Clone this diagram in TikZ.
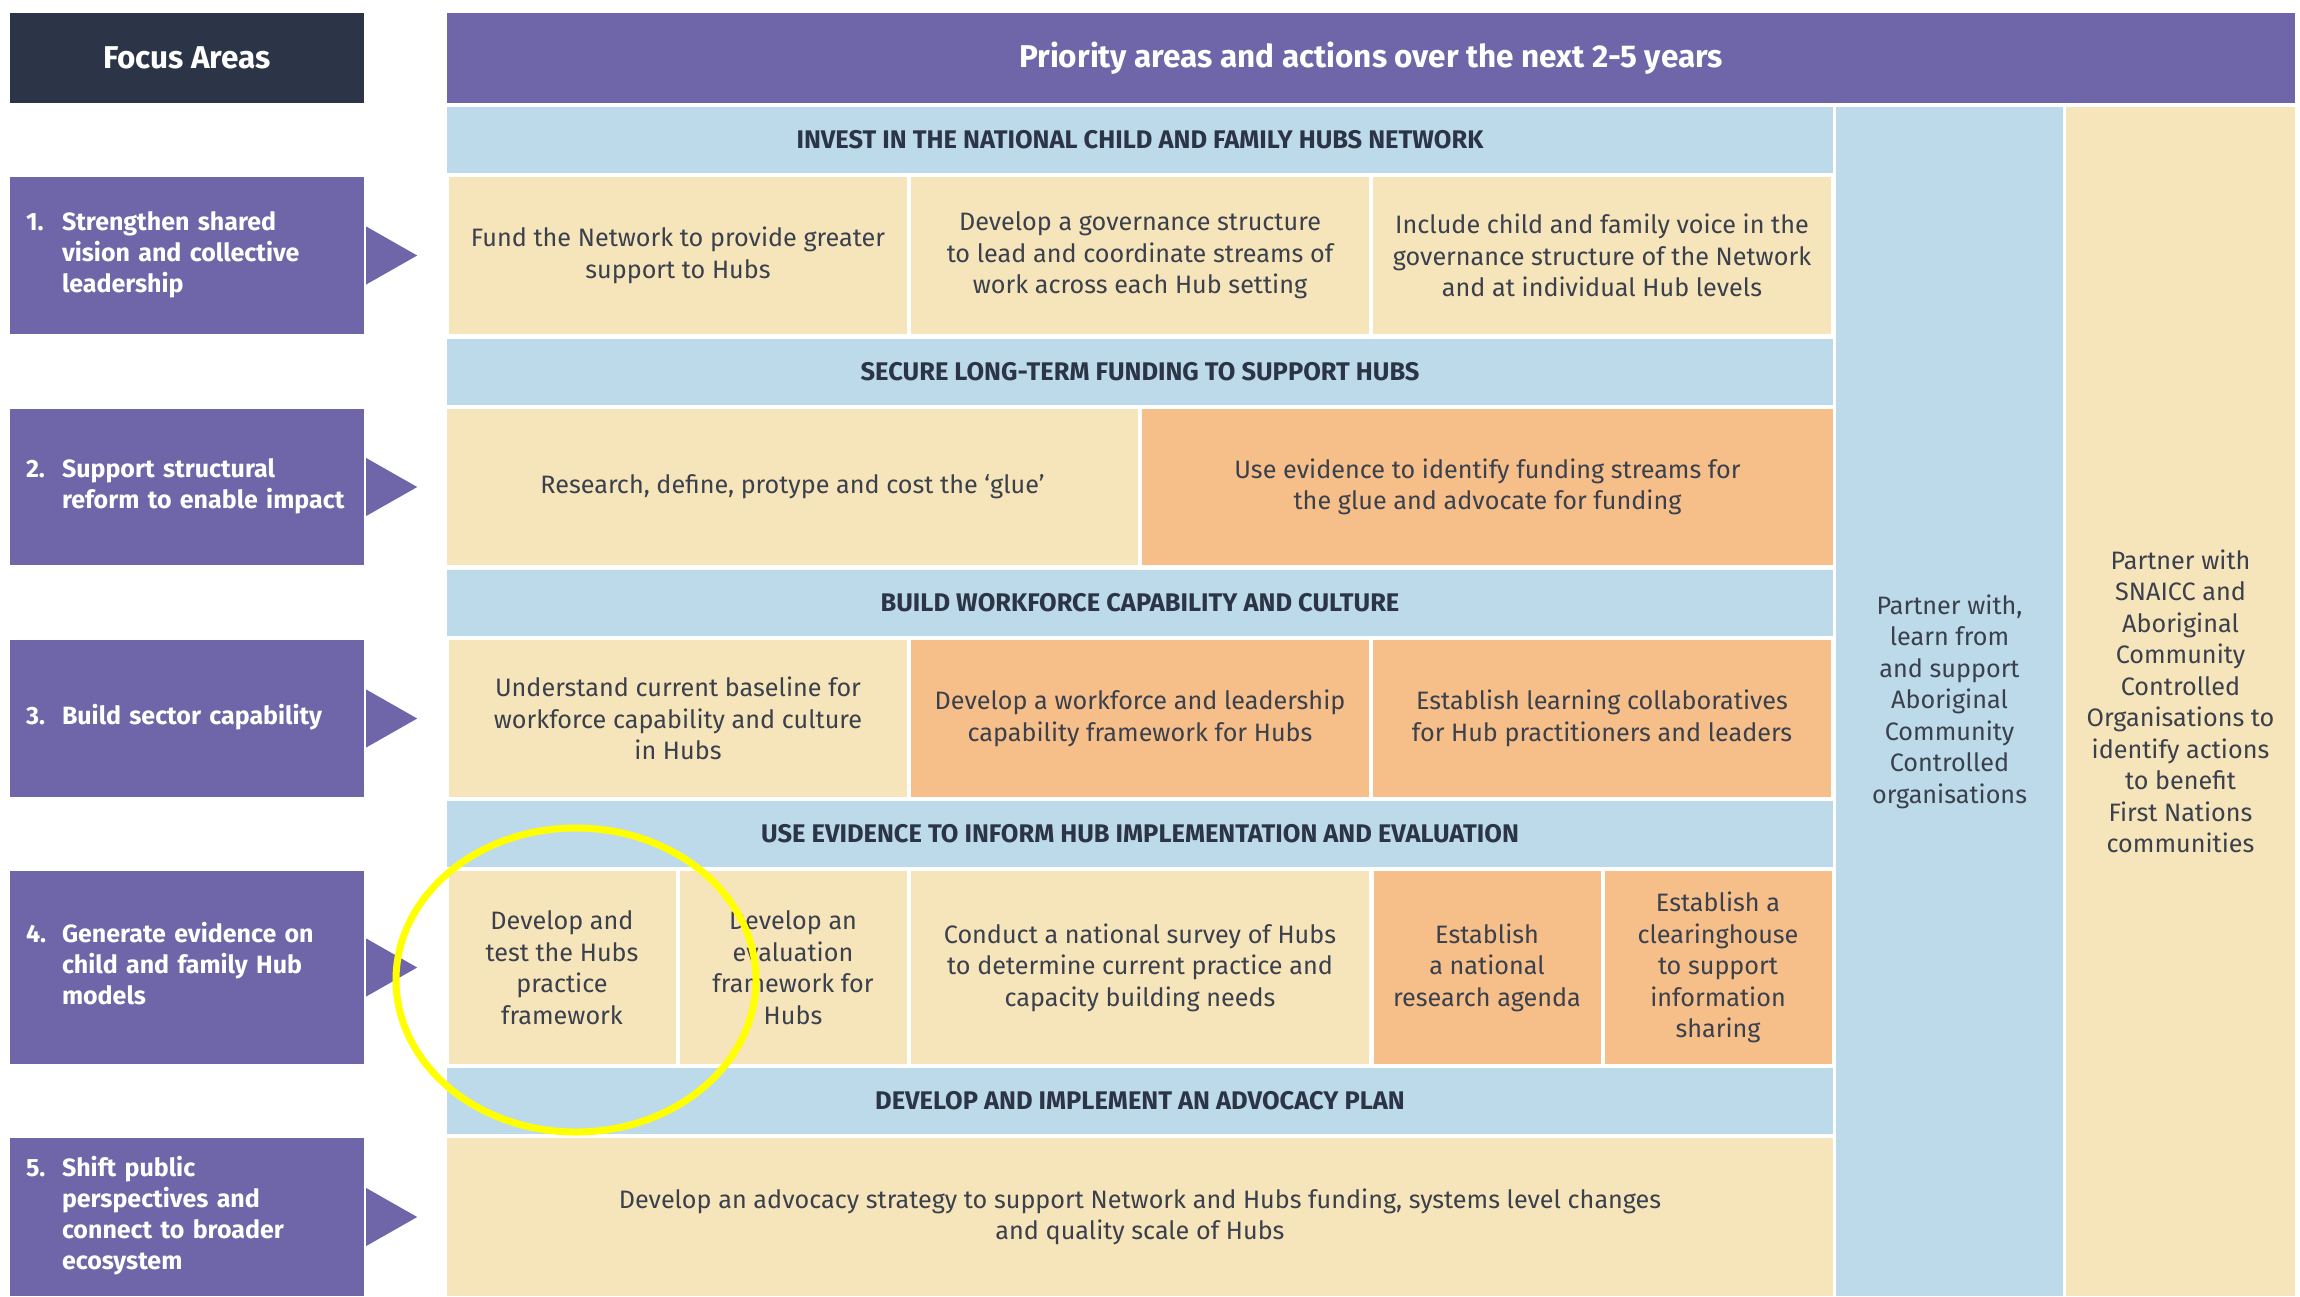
\documentclass[tikz,border=0pt]{standalone}
\usepackage{fontspec}
\setmainfont{Fira Sans}
\usetikzlibrary{positioning}

\definecolor{purp}{HTML}{6E66A8}
\definecolor{navy}{HTML}{2C3547}
\definecolor{sky}{HTML}{BCDAEA}
\definecolor{beige}{HTML}{F6E4BA}
\definecolor{peach}{HTML}{F6BF8A}
\definecolor{ink}{HTML}{3A404C}
\definecolor{ring}{HTML}{FFFF00}

\newcommand{\cellfont}{\fontsize{25.2}{31.5}\selectfont}
\newcommand{\bandfont}{\fontsize{25.5}{30}\selectfont\bfseries}
\newcommand{\focusfont}{\fontsize{25}{31}\selectfont\bfseries}
\newcommand{\headfont}{\fontsize{31.5}{36}\selectfont\bfseries}
\newcommand{\fitem}[2]{\makebox[36pt][l]{#1}\begin{tabular}[t]{@{}l@{}}#2\end{tabular}}

\begin{document}
\begin{tikzpicture}[x=1pt, y=-1pt,
    cell/.style={rectangle, fill=beige, text=ink, inner sep=0pt, align=center, font=\cellfont},
    hot/.style={cell, fill=peach},
    band/.style={rectangle, fill=sky, text=navy, inner sep=0pt, minimum width=1386pt, minimum height=66pt, font=\bandfont},
    focus/.style={rectangle, fill=purp, text=white, minimum width=354pt, text width=322pt, inner xsep=16pt, inner ysep=0pt, align=left, font=\focusfont},
    tip/.style={fill=purp}
]
    \useasboundingbox (0,0) rectangle (2300,1296);

    % Headers
    \node[rectangle, fill=navy, text=white, minimum width=354pt, minimum height=90pt, font=\headfont] (fhead) at (187,58) {Focus Areas};
    \node[rectangle, fill=purp, text=white, minimum width=1848pt, minimum height=90pt, font=\headfont] (phead) at (1371,58) {Priority areas and actions over the next 2-5 years};

    % Focus areas
    \node[focus, minimum height=157pt] (f1) at (187,255.5) {\fitem{1.}{Strengthen shared\\vision and collective\\leadership}};
    \node[focus, minimum height=156pt] (f2) at (187,487) {\fitem{2.}{Support structural\\reform to enable impact}};
    \node[focus, minimum height=157pt] (f3) at (187,718.5) {\fitem{3.}{Build sector capability}};
    \node[focus, minimum height=193pt] (f4) at (187,967.5) {\fitem{4.}{Generate evidence on\\child and family Hub\\models}};
    \node[focus, minimum height=158pt] (f5) at (187,1217) {\fitem{5.}{Shift public\\perspectives and\\connect to broader\\ecosystem}};

    % Pointers
    \fill[tip] ([shift={(2pt,29pt)}]f1.east) -- ([xshift=53pt]f1.east) -- ([shift={(2pt,-29pt)}]f1.east) -- cycle;
    \fill[tip] ([shift={(2pt,29pt)}]f2.east) -- ([xshift=53pt]f2.east) -- ([shift={(2pt,-29pt)}]f2.east) -- cycle;
    \fill[tip] ([shift={(2pt,29pt)}]f3.east) -- ([xshift=53pt]f3.east) -- ([shift={(2pt,-29pt)}]f3.east) -- cycle;
    \fill[tip] ([shift={(2pt,29pt)}]f4.east) -- ([xshift=53pt]f4.east) -- ([shift={(2pt,-29pt)}]f4.east) -- cycle;
    \fill[tip] ([shift={(2pt,29pt)}]f5.east) -- ([xshift=53pt]f5.east) -- ([shift={(2pt,-29pt)}]f5.east) -- cycle;

    % Network
    \node[band] (invest) at (1140,140) {INVEST IN THE NATIONAL CHILD AND FAMILY HUBS NETWORK};
    \node[cell, minimum width=458pt, minimum height=157pt] (fund) at (678,255.5) {Fund the Network to provide greater\\support to Hubs};
    \node[cell, minimum width=458pt, minimum height=157pt] (gov) at (1140,255.5) {Develop a governance structure\\to lead and coordinate streams of\\work across each Hub setting};
    \node[cell, minimum width=458pt, minimum height=157pt] (voice) at (1602,255.5) {Include child and family voice in the\\governance structure of the Network\\and at individual Hub levels};

    % Funding
    \node[band] (secure) at (1140,371.5) {SECURE LONG-TERM FUNDING TO SUPPORT HUBS};
    \node[cell, minimum width=691pt, minimum height=156pt] (glue) at (792.5,487) {Research, define, protype and cost the ‘glue’};
    \node[hot, minimum width=691pt, minimum height=156pt] (streams) at (1487.5,487) {Use evidence to identify funding streams for\\the glue and advocate for funding};

    % Workforce
    \node[band] (build) at (1140,602.5) {BUILD WORKFORCE CAPABILITY AND CULTURE};
    \node[cell, minimum width=458pt, minimum height=157pt] (baseline) at (678,718.5) {Understand current baseline for\\workforce capability and culture\\in Hubs};
    \node[hot, minimum width=458pt, minimum height=157pt] (lead) at (1140,718.5) {Develop a workforce and leadership\\capability framework for Hubs};
    \node[hot, minimum width=458pt, minimum height=157pt] (collab) at (1602,718.5) {Establish learning collaboratives\\for Hub practitioners and leaders};

    % Evidence
    \node[band] (evid) at (1140,834) {USE EVIDENCE TO INFORM HUB IMPLEMENTATION AND EVALUATION};
    \node[cell, minimum width=227pt, minimum height=193pt] (practice) at (562,967.5) {Develop and\\test the Hubs\\practice\\framework};
    \node[cell, minimum width=227pt, minimum height=193pt] (evalfw) at (793,967.5) {Develop an\\evaluation\\framework for\\Hubs};
    \node[cell, minimum width=458pt, minimum height=193pt] (survey) at (1140,967.5) {Conduct a national survey of Hubs\\to determine current practice and\\capacity building needs};
    \node[hot, minimum width=227pt, minimum height=193pt] (agenda) at (1487,967.5) {Establish\\a national\\research agenda};
    \node[hot, minimum width=227pt, minimum height=193pt] (clear) at (1718,967.5) {Establish a\\clearinghouse\\to support\\information\\sharing};

    % Advocacy
    \node[band] (advoc) at (1140,1101) {DEVELOP AND IMPLEMENT AN ADVOCACY PLAN};
    \node[cell, minimum width=1386pt, minimum height=158pt] (strategy) at (1140,1217) {Develop an advocacy strategy to support Network and Hubs funding, systems level changes\\and quality scale of Hubs};

    % Partner columns
    \node[cell, fill=sky, minimum width=227pt, minimum height=1189pt] (accos) at (1949.5,701.5) {Partner with,\\learn from\\and support\\Aboriginal\\Community\\Controlled\\organisations};
    \node[cell, minimum width=229pt, minimum height=1189pt] (snaicc) at (2180.5,701.5) {Partner with\\SNAICC and\\Aboriginal\\Community\\Controlled\\Organisations to\\identify actions\\to benefit\\First Nations\\communities};

    % Highlight
    \draw[ring, line width=7pt] (576,980) ellipse [x radius=180, y radius=152];
\end{tikzpicture}
\end{document}
